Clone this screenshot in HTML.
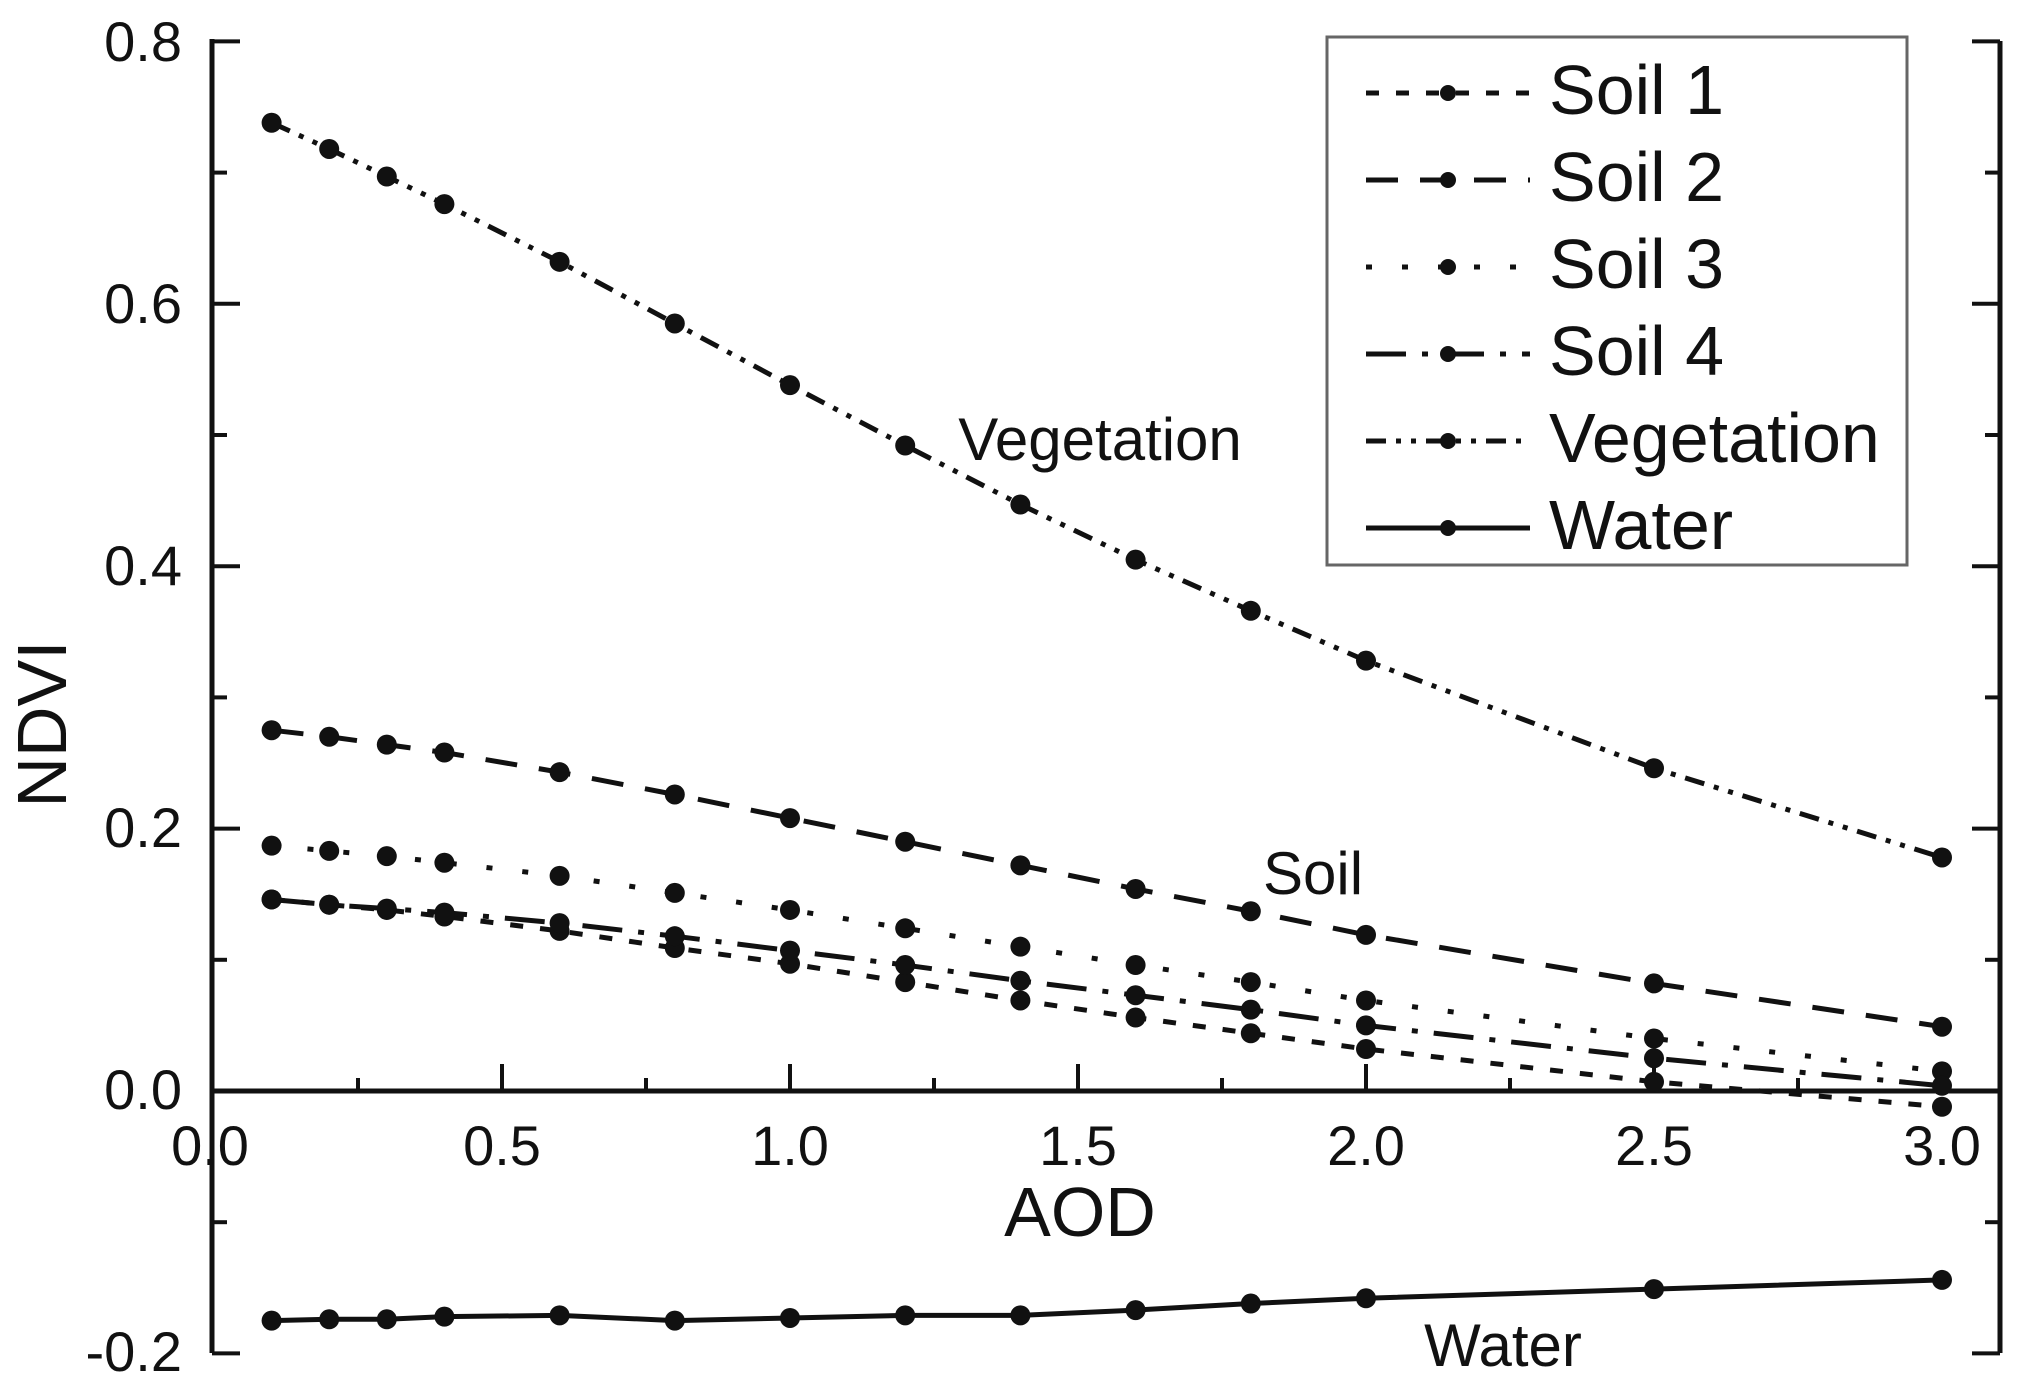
<!DOCTYPE html>
<html><head><meta charset="utf-8"><style>
html,body{margin:0;padding:0;background:#fff}
svg{display:block}
text{font-family:"Liberation Sans",Arial,sans-serif;fill:#111}
</style></head><body>
<svg width="2022" height="1396" viewBox="0 0 2022 1396" xmlns="http://www.w3.org/2000/svg">
<g stroke="#111" stroke-width="5" fill="none">
<line x1="212" y1="39" x2="212" y2="1353"/>
<line x1="2000" y1="41" x2="2000" y2="1353"/>
<line x1="210" y1="1091" x2="2002" y2="1091"/>
</g>
<g id="ticks" stroke="#111" stroke-width="4"></g>
<g font-size="56" text-anchor="end">
<text x="182" y="61">0.8</text>
<text x="182" y="323">0.6</text>
<text x="182" y="585">0.4</text>
<text x="182" y="847">0.2</text>
<text x="182" y="1109">0.0</text>
<text x="182" y="1371">-0.2</text>
</g>
<g font-size="56" text-anchor="middle">
<text x="210" y="1165">0.0</text>
<text x="502" y="1165">0.5</text>
<text x="790" y="1165">1.0</text>
<text x="1078" y="1165">1.5</text>
<text x="1366" y="1165">2.0</text>
<text x="1654" y="1165">2.5</text>
<text x="1942" y="1165">3.0</text>
</g>
<text x="1080" y="1236" font-size="70" text-anchor="middle">AOD</text>
<text transform="translate(66,724) rotate(-90)" font-size="70" text-anchor="middle">NDVI</text>
<text x="1100" y="460" font-size="60" text-anchor="middle">Vegetation</text>
<text x="1313" y="894" font-size="60" text-anchor="middle">Soil</text>
<text x="1503" y="1366" font-size="60" text-anchor="middle">Water</text>
<g id="series"></g>
<rect x="1327" y="37" width="580" height="528" fill="#fff" stroke="#666" stroke-width="3"/>
<g id="legend"></g>
<g font-size="70">
<text x="1549" y="114">Soil 1</text>
<text x="1549" y="201">Soil 2</text>
<text x="1549" y="288">Soil 3</text>
<text x="1549" y="375">Soil 4</text>
<text x="1549" y="462">Vegetation</text>
<text x="1549" y="549">Water</text>
</g>
</svg>
<script>
var NS="http://www.w3.org/2000/svg";
function X(v){return 214+v*576;}
function Y(v){return 1091-v*1312;}
function el(p,n,a){var e=document.createElementNS(NS,n);for(var k in a)e.setAttribute(k,a[k]);p.appendChild(e);return e;}
var t=document.getElementById('ticks');
for(var i=0;i<=10;i++){var v=0.8-i*0.1,y=Y(v),L=(i%2==0)?28:15;
 el(t,'line',{x1:212,y1:y,x2:212+L,y2:y});
 el(t,'line',{x1:2000,y1:y,x2:2000-L,y2:y});}
for(var i=1;i<=12;i++){var x=X(i*0.25),L=(i%2==0)?27:13;
 el(t,'line',{x1:x,y1:1091,x2:x,y2:1091-L});}
var xs=[0.1,0.2,0.3,0.4,0.6,0.8,1.0,1.2,1.4,1.6,1.8,2.0,2.5,3.0];
var S=[
 {d:[0.146,0.142,0.138,0.133,0.122,0.109,0.097,0.083,0.069,0.056,0.044,0.032,0.007,-0.012],dash:"13 17"},
 {d:[0.275,0.270,0.264,0.258,0.243,0.226,0.208,0.190,0.172,0.154,0.137,0.119,0.082,0.049],dash:"32 22"},
 {d:[0.187,0.183,0.179,0.174,0.164,0.151,0.138,0.124,0.110,0.096,0.083,0.069,0.040,0.015],dash:"6 30"},
 {d:[0.146,0.142,0.139,0.136,0.128,0.118,0.107,0.096,0.084,0.073,0.062,0.050,0.025,0.004],dash:"40 16 6 16"},
 {d:[0.738,0.718,0.697,0.676,0.632,0.585,0.538,0.492,0.447,0.405,0.366,0.328,0.246,0.178],dash:"20 10 5 10 5 10"},
 {d:[-0.175,-0.174,-0.174,-0.172,-0.171,-0.175,-0.173,-0.171,-0.171,-0.167,-0.162,-0.158,-0.151,-0.144],dash:""}
];
var g=document.getElementById('series'),lg=document.getElementById('legend');
S.forEach(function(s,k){
 var pts=s.d.map(function(v,i){return X(xs[i])+","+Y(v);}).join(" ");
 var a={points:pts,fill:"none",stroke:"#111","stroke-width":5};
 if(s.dash)a["stroke-dasharray"]=s.dash;
 el(g,'polyline',a);
 s.d.forEach(function(v,i){el(g,'circle',{cx:X(xs[i]),cy:Y(v),r:10,fill:"#111"});});
 var ly=93+k*87;
 var b={x1:1366,y1:ly,x2:1530,y2:ly,stroke:"#111","stroke-width":5};
 if(s.dash)b["stroke-dasharray"]=s.dash;
 el(lg,'line',b);
 el(lg,'circle',{cx:1448,cy:ly,r:8,fill:"#111"});
});
</script>
</body></html>
